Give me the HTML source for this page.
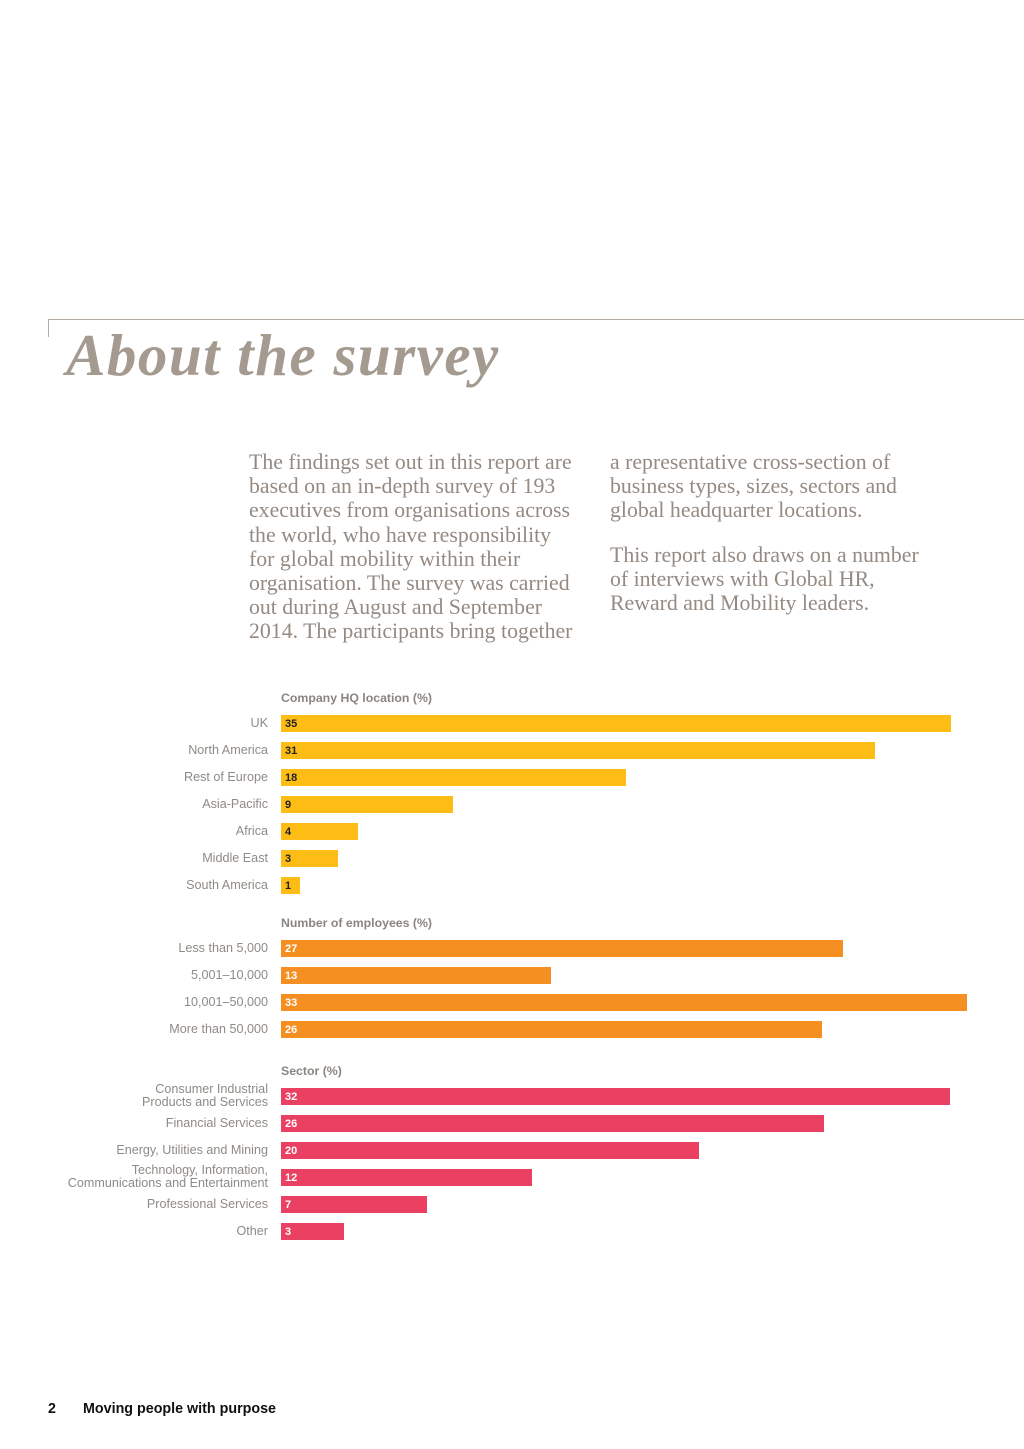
<!DOCTYPE html>
<html><head><meta charset="utf-8">
<style>
html,body{margin:0;padding:0;background:#fff;}
body{width:1024px;height:1449px;position:relative;overflow:hidden;font-family:"Liberation Sans",sans-serif;}
.rule{position:absolute;background:#b3aaa2;}
.title{position:absolute;left:66px;top:321px;font-family:"Liberation Serif",serif;font-style:italic;font-weight:bold;font-size:59px;color:#a59a90;letter-spacing:1.5px;}
.para{position:absolute;font-family:"Liberation Serif",serif;font-size:21.8px;line-height:24.2px;color:#958a82;white-space:nowrap;}
.sec{position:absolute;left:281px;font-size:12.3px;font-weight:bold;color:#8a8580;}
.lbl{position:absolute;right:756px;font-size:12.6px;color:#8f8a86;text-align:right;line-height:12.5px;white-space:nowrap;}
.bar{position:absolute;left:281px;height:17px;}
.val{position:absolute;left:285px;font-size:11px;font-weight:bold;line-height:19px;}
.foot{position:absolute;top:1401px;font-size:14.3px;font-weight:bold;color:#111;}
</style></head><body>
<div class="rule" style="left:48px;top:319px;width:976px;height:1px;"></div>
<div class="rule" style="left:48px;top:319px;width:1px;height:18px;"></div>
<div class="title">About the survey</div>
<div class="para" style="left:249px;top:450px;">The findings set out in this report are<br>based on an in-depth survey of 193<br>executives from organisations across<br>the world, who have responsibility<br>for global mobility within their<br>organisation. The survey was carried<br>out during August and September<br>2014. The participants bring together</div>
<div class="para" style="left:610px;top:450px;">a representative cross-section of<br>business types, sizes, sectors and<br>global headquarter locations.</div>
<div class="para" style="left:610px;top:543px;">This report also draws on a number<br>of interviews with Global HR,<br>Reward and Mobility leaders.</div>
<div id="charts"></div>
<div class="foot" style="left:48px;">2</div>
<div class="foot" style="left:83px;">Moving people with purpose</div>
<script>
const hqCategories=["UK","North America","Rest of Europe","Asia-Pacific","Africa","Middle East","South America"];
const hqValues=[35,31,18,9,4,3,1];
const empCategories=["Less than 5,000","5,001–10,000","10,001–50,000","More than 50,000"];
const empValues=[27,13,33,26];
const sectorCategories=["Consumer Industrial<br>Products and Services","Financial Services","Energy, Utilities and Mining","Technology, Information,<br>Communications and Entertainment","Professional Services","Other"];
const sectorValues=[32,26,20,12,7,3];

const root=document.getElementById('charts');
function section(name,title,titleY,firstY,cats,vals,scale,color,txt){
  const t=document.createElement('div');
  t.className='sec';t.style.top=titleY+'px';t.textContent=title;
  
  
  root.appendChild(t);
  cats.forEach((c,i)=>{
    const y=firstY+i*27;
    const l=document.createElement('div');
    l.className='lbl';l.innerHTML=c;
    const two=c.indexOf('<br>')>=0;
    l.style.top=(two?y-5:y+2)+'px';
    
    
    root.appendChild(l);
    const b=document.createElement('div');
    b.className='bar';b.style.top=y+'px';b.style.width=(vals[i]*scale)+'px';b.style.background=color;
    
    
    root.appendChild(b);
    const v=document.createElement('div');
    v.className='val';v.style.top=y+'px';v.style.color=txt;v.textContent=vals[i];
    
    
    root.appendChild(v);
  });
}
section('hq-location','Company HQ location (%)',691,715,hqCategories,hqValues,19.15,'#fdbd14','#222');
section('employees','Number of employees (%)',916,940,empCategories,empValues,20.8,'#f68f22','#fff');
section('sector','Sector (%)',1064,1088,sectorCategories,sectorValues,20.9,'#ea4062','#fff');
</script>
</body></html>
